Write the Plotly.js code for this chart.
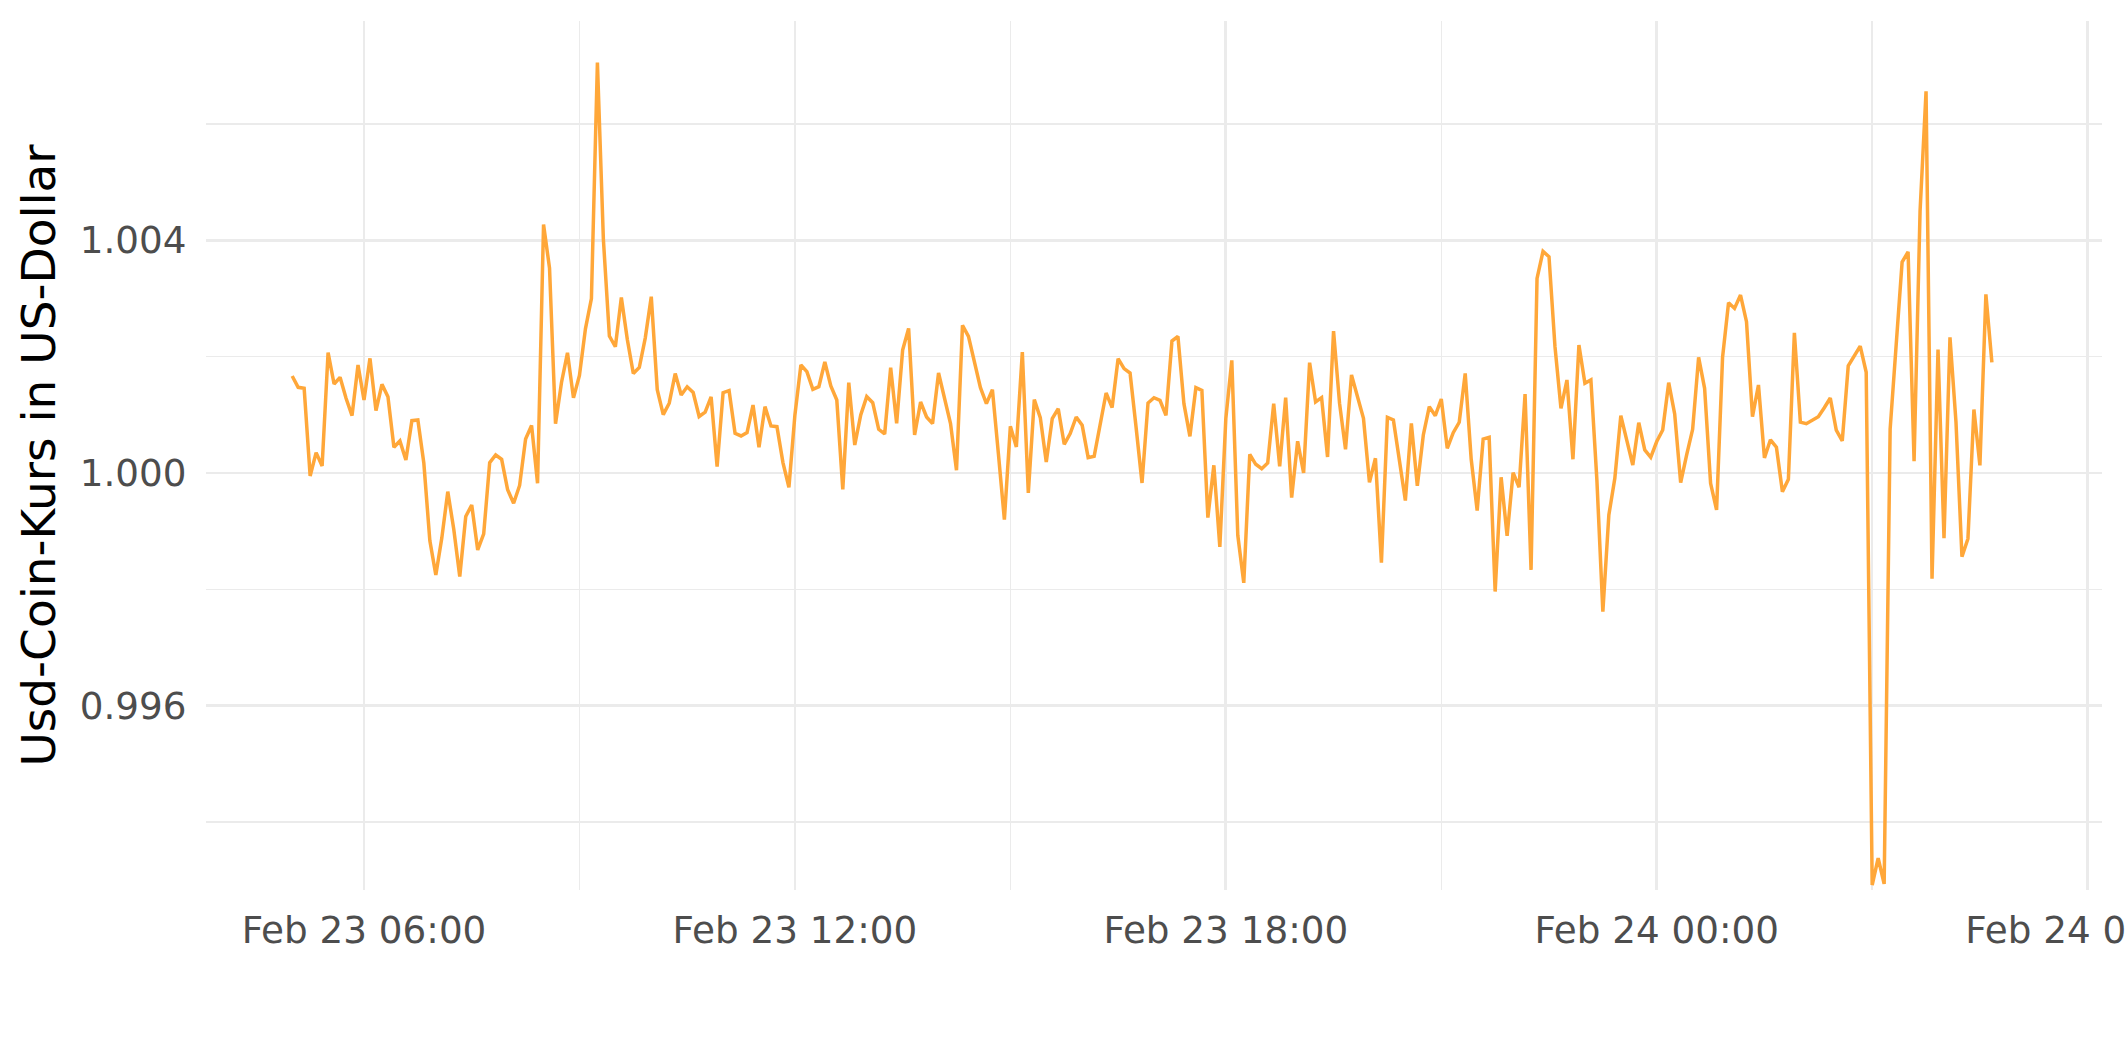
<!DOCTYPE html>
<html>
<head>
<meta charset="utf-8">
<script src="https://cdn.plot.ly/plotly-3.0.1.min.js"></script>
<style>
  html, body { margin: 0; padding: 0; background: #ffffff; }
  #chart { width: 2125px; height: 1062px; }
</style>
</head>
<body>
<div id="chart"></div>
<script>
// ---- data (5-minute observations starting Feb 23, 05:00) ----
const startTime = '2023-02-23T05:00:00Z';
const stepMinutes = 5;

const usdcPrice = [
  1.001667, 1.001472, 1.001455, 0.999948, 1.000349, 1.000120, 1.002068, 1.001529, 1.001644, 1.001283,
  1.000985, 1.001856, 1.001254, 1.001970, 1.001071, 1.001523, 1.001312, 1.000441, 1.000550, 1.000223,
  1.000899, 1.000911, 1.000166, 0.998837, 0.998247, 0.998880, 0.999679, 0.999032, 0.998219, 0.999250,
  0.999450, 0.998677, 0.998952, 1.000178, 1.000309, 1.000234, 0.999711, 0.999478, 0.999785, 1.000584,
  1.000817, 0.999822, 1.004272, 1.003522, 1.000848, 1.001555, 1.002065, 1.001291, 1.001678, 1.002477,
  1.002999, 1.007056, 1.004013, 1.002354, 1.002170, 1.003018, 1.002293, 1.001709, 1.001813, 1.002323,
  1.003030, 1.001432, 1.001002, 1.001199, 1.001709, 1.001340, 1.001481, 1.001383, 1.000971, 1.001045,
  1.001309, 1.000109, 1.001380, 1.001415, 1.000682, 1.000636, 1.000693, 1.001168, 1.000441, 1.001140,
  1.000808, 1.000796, 1.000178, 0.999754, 1.000997, 1.001856, 1.001741, 1.001438, 1.001483, 1.001907,
  1.001495, 1.001254, 0.999719, 1.001552, 1.000481, 1.000997, 1.001312, 1.001208, 1.000750, 1.000670,
  1.001810, 1.000853, 1.002113, 1.002486, 1.000653, 1.001220, 1.000962, 1.000848, 1.001718, 1.001249,
  1.000848, 1.000046, 1.002537, 1.002348, 1.001936, 1.001466, 1.001191, 1.001432, 1.000332, 0.999198,
  1.000802, 1.000447, 1.002079, 0.999656, 1.001260, 1.000951, 1.000189, 1.000934, 1.001105, 1.000493,
  1.000676, 1.000962, 1.000819, 1.000263, 1.000286, 1.000819, 1.001375, 1.001123, 1.001964, 1.001793,
  1.001718, 1.000790, 0.999828, 1.001203, 1.001294, 1.001249, 1.000991, 1.002268, 1.002348, 1.001191,
  1.000630, 1.001466, 1.001420, 0.999233, 1.000132, 0.998729, 1.000934, 1.001936, 0.998929, 0.998110,
  1.000321, 1.000149, 1.000074, 1.000172, 1.001191, 1.000115, 1.001294, 0.999576, 1.000544, 1.000000,
  1.001896, 1.001220, 1.001294, 1.000275, 1.002440, 1.001200, 1.000407, 1.001684, 1.001323, 1.000939,
  0.999839, 1.000252, 0.998459, 1.000956, 1.000911, 1.000223, 0.999525, 1.000853, 0.999777, 1.000653,
  1.001140, 1.000985, 1.001271, 1.000424, 1.000693, 1.000871, 1.001712, 1.000235, 0.999353, 1.000584,
  1.000613, 0.997961, 0.999926, 0.998918, 1.000006, 0.999754, 1.001357, 0.998333, 1.003345, 1.003810,
  1.003717, 1.002170, 1.001111, 1.001598, 1.000235, 1.002199, 1.001541, 1.001598, 0.999880, 0.997617,
  0.999278, 0.999908, 1.000985, 1.000560, 1.000137, 1.000865, 1.000395, 1.000269, 1.000540, 1.000739,
  1.001552, 1.001014, 0.999834, 1.000309, 1.000750, 1.001987, 1.001455, 0.999822, 0.999364, 1.001987,
  1.002927, 1.002829, 1.003058, 1.002600, 1.000968, 1.001512, 1.000258, 1.000570, 1.000442, 0.999678,
  0.999890, 1.002410, 1.000874, 1.000846, 1.000900, 1.000966, 1.001122, 1.001288, 1.000736, 1.000552,
  1.001840, 1.002006, 1.002180, 1.001730, 0.992916, 0.993376, 0.992935, 1.000754, 1.002200, 1.003625,
  1.003800, 1.000200, 1.004500, 1.006560, 0.998180, 1.002120, 0.998880, 1.002330, 1.000880, 0.998560,
  0.998870, 1.001090, 1.000130, 1.003070, 1.001900
];

const xTickLabelFormat = '%b %d %H:%M';
const yTickLabelFormat = '.3f';
const yAxisTitle = 'Usd-Coin-Kurs in US-Dollar';

// timestamps of the regular 5-minute grid
function fmt(d) {
  const p = n => String(n).padStart(2, '0');
  return d.getUTCFullYear() + '-' + p(d.getUTCMonth() + 1) + '-' + p(d.getUTCDate()) + ' ' +
         p(d.getUTCHours()) + ':' + p(d.getUTCMinutes());
}
const t0 = Date.parse(startTime);
const times = usdcPrice.map((_, i) => fmt(new Date(t0 + i * stepMinutes * 60000)));

const FONT = 'DejaVu Sans, Verdana, sans-serif';
const GRID = '#EBEBEB';

const trace = {
  type: 'scatter',
  mode: 'lines',
  x: times,
  y: usdcPrice,
  line: { color: '#FFA739', width: 3.5 },
  hoverinfo: 'skip'
};

const layout = {
  width: 2125,
  height: 1062,
  paper_bgcolor: '#ffffff',
  plot_bgcolor: '#ffffff',
  margin: { l: 206, r: 23, t: 21, b: 172, pad: 0 },
  showlegend: false,
  xaxis: {
    type: 'date',
    range: ['2023-02-23 03:48', '2023-02-24 06:12'],
    tick0: '2023-02-23 00:00',
    dtick: 6 * 3600 * 1000,
    tickformat: xTickLabelFormat,
    showgrid: true,
    gridcolor: GRID,
    gridwidth: 2.7,
    minor: { tick0: '2023-02-23 00:00', dtick: 3 * 3600 * 1000, showgrid: true, gridcolor: GRID, gridwidth: 1.5 },
    zeroline: false,
    showline: false,
    ticks: 'outside',
    ticklen: 7,
    tickcolor: 'rgba(0,0,0,0)',
    ticklabeloverflow: 'allow',
    tickfont: { family: FONT, size: 37.3, color: '#4D4D4D' },
    fixedrange: true
  },
  yaxis: {
    range: [0.99283, 1.00777],
    tick0: 1.0,
    dtick: 0.004,
    tickformat: yTickLabelFormat,
    showgrid: true,
    gridcolor: GRID,
    gridwidth: 2.7,
    minor: { tick0: 1.0, dtick: 0.002, showgrid: true, gridcolor: GRID, gridwidth: 1.5 },
    zeroline: false,
    showline: false,
    ticks: 'outside',
    ticklen: 11,
    tickcolor: 'rgba(0,0,0,0)',
    tickfont: { family: FONT, size: 37.3, color: '#4D4D4D' },
    title: { text: yAxisTitle, font: { family: FONT, size: 47, color: '#000000' }, standoff: 9 },
    fixedrange: true
  }
};

Plotly.newPlot('chart', [trace], layout, { displayModeBar: false, staticPlot: true });
</script>
</body>
</html>
